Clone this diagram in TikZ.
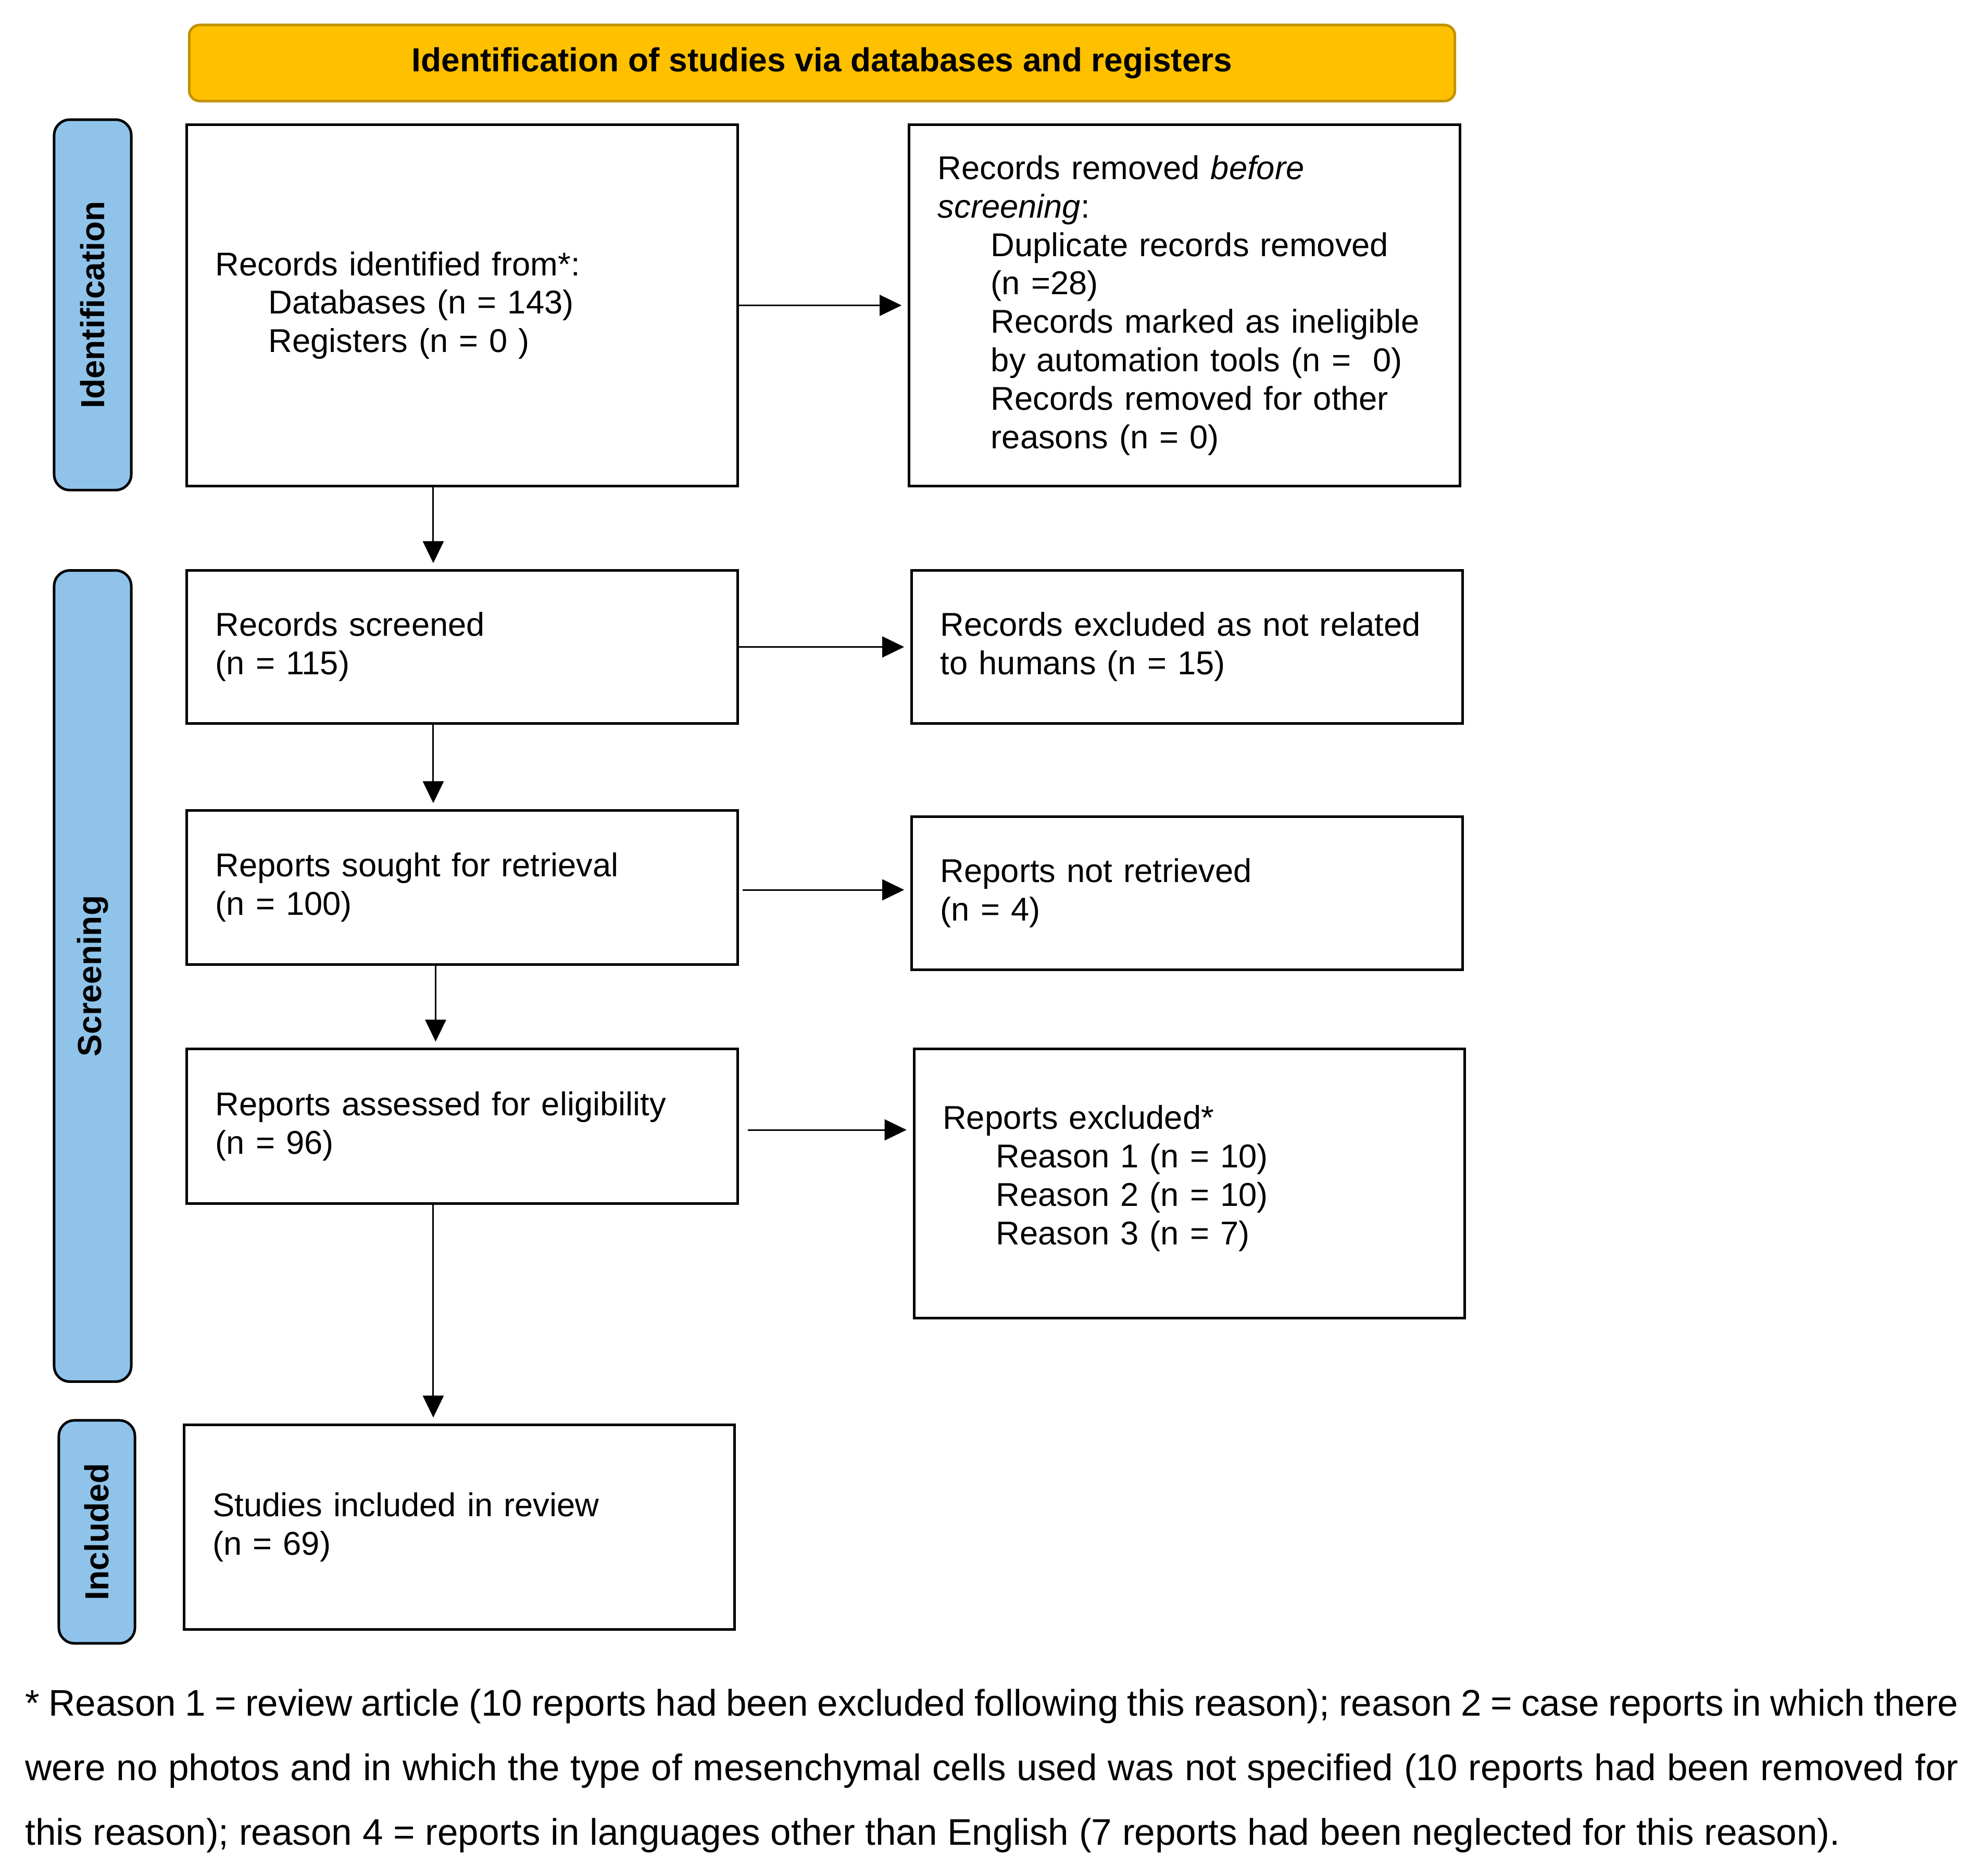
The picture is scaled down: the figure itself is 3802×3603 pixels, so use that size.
\documentclass[tikz,border=0pt]{standalone}
\usepackage{fontspec}
\setmainfont{Liberation Sans}
\usetikzlibrary{arrows.meta}

\definecolor{headgold}{HTML}{FFC000}
\definecolor{headedge}{HTML}{C29200}
\definecolor{stageblue}{HTML}{8FC3EA}

\newcommand{\ind}{\hspace*{1.02cm}}

\tikzset{
	box/.style={draw, line width=1.4pt, align=left, inner xsep=0.55cm, text width=9.47cm, font=\fontsize{18}{21}\selectfont},
	stage/.style={draw, line width=1.4pt, fill=stageblue, rounded corners=0.3cm, rotate=90, inner sep=0pt, font=\bfseries\fontsize{18.2}{21}\selectfont},
	arr/.style={line width=0.85pt, -{Triangle[length=0.42cm, width=0.4cm]}, shorten >=0.12cm}
}

\begin{document}
\begin{tikzpicture}[x=0.01cm, y=-0.01cm]
			\useasboundingbox (0,0) rectangle (3802,3603);
			\node [draw=headedge, fill=headgold, line width=1.4pt, rounded corners=0.2cm, minimum width=24.29cm, minimum height=1.46cm, font=\bfseries\fontsize{18.2}{21}\selectfont] (head) at (1578.5,121) {Identification of studies via databases and registers};
			% stage bars
			\node [stage, minimum width=7.11cm, minimum height=1.48cm] (sIdent) at (178,585.5) {Identification};
			\node [stage, minimum width=15.57cm, minimum height=1.48cm] (sScreen) at (178,1874.5) {Screening};
			\node [stage, minimum width=4.28cm, minimum height=1.46cm] (sIncl) at (186,2942) {Included};
			% boxes
			\node [box, minimum height=6.93cm] (ident) at (887.5,586.5) {Records identified from*:\\ \ind Databases (n = 143)\\ \ind Registers (n = 0 )};
			\node [box, minimum height=6.93cm] (removed) at (2274.5,586.5) {Records removed \textit{before}\\ \textit{screening}:\\ \ind Duplicate records removed\\ \ind (n =28)\\ \ind Records marked as ineligible\\ \ind by automation tools (n = \ 0)\\ \ind Records removed for other\\ \ind reasons (n = 0)};
			\node [box, minimum height=2.93cm] (screened) at (887.5,1242.5) {Records screened\\ (n = 115)};
			\node [box, minimum height=2.93cm] (notrelated) at (2279.5,1242.5) {Records excluded as not related\\ to humans (n = 15)};
			\node [box, minimum height=2.95cm] (sought) at (887.5,1704.5) {Reports sought for retrieval\\ (n = 100)};
			\node [box, minimum height=2.93cm] (notretr) at (2279.5,1715.5) {Reports not retrieved\\ (n = 4)};
			\node [box, minimum height=2.96cm] (assessed) at (887.5,2163) {Reports assessed for eligibility\\ (n = 96)};
			\node [box, minimum height=5.16cm] (excluded) at (2284,2273) {Reports excluded*\\ \ind Reason 1 (n = 10)\\ \ind Reason 2 (n = 10)\\ \ind Reason 3 (n = 7)\rule[-0.33cm]{0pt}{0pt}};
			\node [box, minimum height=3.92cm] (included) at (882,2933) {Studies included in review\\ (n = 69)};
			% arrows
			\draw [arr] ([xshift=-0.555cm]ident.south) -- ([xshift=-0.555cm]ident.south |- screened.north);
			\draw [arr] ([xshift=-0.555cm]screened.south) -- ([xshift=-0.555cm]screened.south |- sought.north);
			\draw [arr] ([xshift=-0.51cm]sought.south) -- ([xshift=-0.51cm]sought.south |- assessed.north);
			\draw [arr] ([xshift=-0.555cm]assessed.south) -- ([xshift=-0.555cm]assessed.south |- included.north);
			\draw [arr] (ident.east) -- (ident.east -| removed.west);
			\draw [arr] (screened.east) -- (screened.east -| notrelated.west);
			\draw [arr, shorten <=0.07cm] ([yshift=-0.045cm]sought.east) -- ([yshift=-0.045cm]sought.east -| notretr.west);
			\draw [arr, shorten <=0.17cm] ([yshift=-0.07cm]assessed.east) -- ([yshift=-0.07cm]assessed.east -| excluded.west);
			% footnote
			\node [anchor=north west, inner sep=0pt, text width=37.1cm, align=justify, font=\fontsize{20.2}{35.3}\selectfont] (note) at (48,3243) {* Reason 1 = review article (10 reports had been excluded following this reason); reason 2 = case reports in which there\linebreak were no photos and in which the type of mesenchymal cells used was not specified (10 reports had been removed for\linebreak this reason); reason 4 = reports in languages other than English (7 reports had been neglected for this reason).};
\end{tikzpicture}
\end{document}
